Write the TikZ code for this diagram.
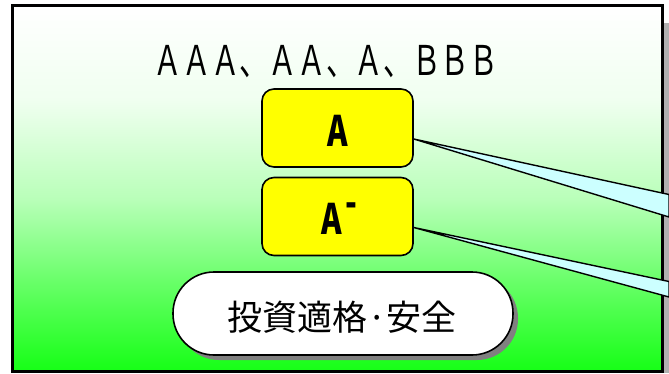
\documentclass[tikz,border=0pt]{standalone}
\usepackage{fontspec}
\usepackage{graphicx}
\newfontfamily\cjk{Noto Sans CJK JP}
\usetikzlibrary{shadows}
\definecolor{wedgeblue}{RGB}{204,255,255}
\definecolor{boxyellow}{RGB}{255,255,0}
\definecolor{g0}{RGB}{255,255,255}
\definecolor{g1}{RGB}{240,255,240}
\definecolor{g2}{RGB}{184,255,184}
\definecolor{g3}{RGB}{106,255,106}
\definecolor{g4}{RGB}{22,255,22}
\definecolor{stripgray}{RGB}{176,176,176}
\tikzset{
  rbox/.style={draw=black, line width=1.6pt, fill=boxyellow, rounded corners=12pt,
    minimum width=151pt, minimum height=78pt, inner sep=0pt},
  pill/.style={draw=black, line width=1.6pt, fill=white, rounded corners=41pt,
    minimum width=340pt, minimum height=83pt, inner sep=0pt,
    drop shadow={shadow xshift=5pt, shadow yshift=-5pt, fill=black!50, opacity=1}},
  wedge/.style={draw=black, line width=1.4pt, fill=wedgeblue, line join=miter},
  frame/.style={draw=black, line width=3pt},
  txt/.style={inner sep=0pt, anchor=base}
}
\begin{document}
\begin{tikzpicture}[x=1pt,y=-1pt]
\useasboundingbox (0,0) rectangle (669,373);
% drop strip at right
\fill[stripgray] (663,23) rectangle (669,373);
% gradient background in bands
\shade[top color=g0, bottom color=g1] (12,5) rectangle (662,100.5);
\shade[top color=g1, bottom color=g2] (12,100) rectangle (662,200.5);
\shade[top color=g2, bottom color=g3] (12,200) rectangle (662,280.5);
\shade[top color=g3, bottom color=g4] (12,280) rectangle (662,371);
% frame
\draw[frame] (12,5) rectangle (662,371);
% heading
\node[txt] (head) at (326,75) {\scalebox{0.7}[1]{\cjk\fontsize{41}{41}\selectfont ＡＡＡ、ＡＡ、Ａ、ＢＢＢ}};
% boxes
\node[rbox] (a) at (337.5,128) {};
\node[rbox] (am) at (337.5,216.5) {};
\node[txt] (at) at (338,146) {\scalebox{0.74}[1]{\cjk\bfseries\fontsize{42}{42}\selectfont A}};
\node[txt] (amt) at (339.5,234) {\scalebox{0.74}[1]{\cjk\bfseries\fontsize{42}{42}\selectfont A\hspace{5pt}\raisebox{17pt}{-}}};
% pill
\node[pill] (p) at (343,313.5) {};
\node[txt] (pt) at (342,330) {\cjk\fontsize{35}{35}\selectfont 投資適格·安全};
% wedges
\coordinate (w1) at ([yshift=-11pt]a.east);
\coordinate (w2) at ([yshift=-11pt]am.east);
\coordinate (e1t) at (669,194.5);
\coordinate (e1b) at (669,217);
\coordinate (e2t) at (669,281.5);
\coordinate (e2b) at (669,297);
\draw[wedge] (w1) -- (e1t) -- (e1b) -- cycle;
\draw[wedge] (w2) -- (e2t) -- (e2b) -- cycle;
\end{tikzpicture}
\end{document}
